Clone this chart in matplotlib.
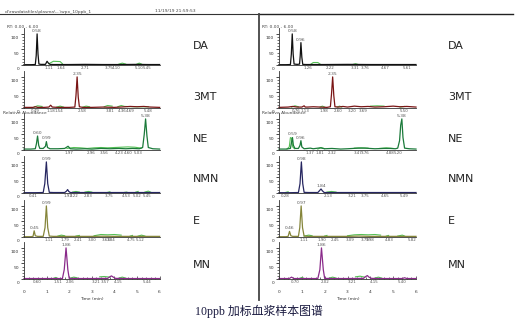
import numpy as np
import matplotlib
matplotlib.use("Agg")
import matplotlib.pyplot as plt
from matplotlib.lines import Line2D

nan = np.nan

# ---------------- data ----------------
compounds = ["DA", "3MT", "NE", "NMN", "E", "MN"]

# ---- left sample ----
da_l_t = [0, 0.3, 0.5, 0.54, 0.58, 0.62, 0.66, 0.75, 0.95, 1.02, 1.08, 1.15, 1.3, 2.0, 2.7, 3.5, 4.2, 5.0, 5.5, 6.0]
da_l_i = [1, 1, 1.5, 30, 100, 35, 3, 2, 2, 12, 6, 2, 1.5, 1.5, 2, 1.5, 1.5, 2, 1.5, 1.5]
da_l_gt = [1.1, 1.3, 1.6, 1.7, nan, 4.2, 4.35, 4.5, nan, 5.0, 5.1, 5.2]
da_l_gi = [4, 12, 11, 4, nan, 3, 6, 3, nan, 3, 6, 3]
da_l_apex = ["0.58"]
da_l_rt = ["1.11", "1.64", "2.71", "3.75", "4.10", "5.10", "5.45"]

mt_l_t = [0, 0.4, 0.5, 0.6, 0.9, 1.1, 1.18, 1.25, 1.5, 2.0, 2.25, 2.3, 2.35, 2.4, 2.45, 2.6, 3.0, 3.5, 4.0, 4.5, 4.7, 5.0, 5.3, 5.6, 6.0]
mt_l_i = [2, 2, 4, 2, 2, 3, 9, 3, 2, 2, 3, 40, 100, 35, 4, 2, 2, 3, 2, 4, 5, 4, 5, 3, 2]
mt_l_gt = [0.45, 0.6, 0.8, nan, 1.45, 1.6, 1.75, nan, 2.6, 2.75, 2.9, nan, 3.55, 3.7, 3.9, nan, 4.15, 4.3, 4.45, 4.9, 5.5]
mt_l_gi = [3, 7, 5, nan, 3, 6, 3, nan, 3, 6, 4, nan, 4, 8, 6, nan, 4, 8, 5, 4, 4]
mt_l_apex = ["2.35"]
mt_l_rt = ["0.49", "1.18", "1.54", "2.58", "3.81", "4.36", "4.69", "5.48"]

ne_l_t = [0, 0.3, 0.5, 0.55, 0.6, 0.65, 0.7, 0.85, 0.95, 0.99, 1.04, 1.15, 1.5, 1.8, 1.95, 2.05, 2.3, 2.7, 3.0, 3.4, 3.8, 4.2, 4.5, 4.8, 5.1, 5.25, 5.32, 5.38, 5.44, 5.5, 5.7, 6.0]
ne_l_i = [3, 3, 4, 20, 45, 15, 5, 5, 12, 27, 8, 4, 4, 5, 12, 4, 3, 4, 3, 5, 4, 5, 4, 5, 4, 8, 50, 100, 45, 8, 4, 3]
ne_l_gt = [1.9, 2.2, 2.5, 2.8, 3.1, 3.4, 3.7, 4.0, 4.3, 4.6, 4.9, 5.2]
ne_l_gi = [5, 8, 7, 5, 7, 8, 7, 8, 9, 10, 9, 6]
ne_l_apex = ["0.60", "0.99", "5.38"]
ne_l_rt = ["1.97", "2.96", "3.56", "4.23", "4.60", "5.03"]

nmn_l_t = [0, 0.5, 0.85, 0.92, 0.99, 1.05, 1.12, 1.3, 1.8, 1.88, 1.93, 1.98, 2.05, 2.5, 3, 4, 5, 6]
nmn_l_i = [1, 1, 1.5, 30, 100, 30, 2, 1.5, 1.5, 6, 11, 5, 1.5, 1.5, 1.5, 1.5, 1.5, 1.5]
nmn_l_gt = [2.15, 2.3, 2.45, nan, 2.7, 2.85, 3.0, nan, 3.7, 3.8, nan, 4.45, 4.55, nan, 4.95, 5.05, nan, 5.35, 5.5, 5.6]
nmn_l_gi = [3, 5, 3, nan, 3, 5, 3, nan, 2, 4, nan, 2, 3, nan, 3, 5, nan, 3, 6, 3]
nmn_l_apex = ["0.99"]
nmn_l_rt = ["0.41", "1.93", "2.22", "2.83", "3.75", "4.53", "5.02", "5.45"]

e_l_t = [0, 0.3, 0.4, 0.45, 0.5, 0.6, 0.85, 0.93, 0.99, 1.05, 1.12, 1.3, 2, 3, 3.5, 4, 5, 6]
e_l_i = [1, 1, 2, 20, 4, 2, 2, 30, 100, 30, 3, 2, 2, 2, 2.5, 2, 2, 2]
e_l_gt = [1.5, 1.65, 1.8, nan, 2.3, 2.45, nan, 3.1, 3.4, 3.7, 4.0, 4.3, nan, 4.7, 4.8, nan, 5.05, 5.2, 5.35]
e_l_gi = [3, 6, 4, nan, 3, 5, nan, 4, 8, 7, 8, 6, nan, 3, 5, nan, 3, 6, 3]
e_l_apex = ["0.45", "0.99"]
e_l_rt = ["1.11", "1.79", "2.41", "3.00", "3.63", "3.84", "4.75", "5.12"]

mn_l_t = [0, 0.5, 1.0, 1.7, 1.78, 1.86, 1.94, 2.0, 2.3, 3.0, 3.7, 3.8, 3.87, 3.95, 4.05, 4.5, 5, 6]
mn_l_i = [1.5, 1.5, 1.5, 1.5, 30, 100, 30, 2, 1.5, 1.5, 2, 7, 10, 6, 2, 1.5, 1.5, 1.5]
mn_l_gt = [1.3, 1.4, 1.5, nan, 2.05, 2.2, 2.35, nan, 3.35, 3.55, 3.8, nan, 4.2, 4.35, 4.5]
mn_l_gi = [2, 5, 2, nan, 3, 6, 4, nan, 7, 8, 6, nan, 3, 6, 3]
mn_l_apex = ["1.86"]
mn_l_rt = ["0.60", "1.51", "2.06", "3.21", "3.57", "4.15", "5.44"]

# ---- right sample ----
da_r_t = [0, 0.3, 0.5, 0.54, 0.58, 0.62, 0.66, 0.8, 0.9, 0.93, 0.96, 1.0, 1.04, 1.2, 2, 3, 4, 5, 6]
da_r_i = [1, 1, 1.5, 35, 100, 35, 3, 2, 3, 30, 72, 25, 2, 1.5, 1.5, 2, 1.5, 1.5, 1.5]
da_r_gt = [1.4, 1.5, 1.7, 1.8, nan, 3.25, 3.35, 3.45]
da_r_gi = [3, 8, 8, 3, nan, 2, 4, 2]
da_r_apex = ["0.58", "0.96"]
da_r_rt = ["1.26", "2.22", "3.31", "3.76", "4.67", "5.61"]

mt_r_t = [0, 0.4, 0.6, 0.8, 1.0, 1.1, 1.15, 1.25, 1.5, 1.8, 2.1, 2.25, 2.3, 2.35, 2.4, 2.45, 2.6, 2.8, 3.0, 3.3, 3.6, 3.9, 4.2, 4.6, 5.0, 5.3, 5.6, 6.0]
mt_r_i = [2, 3, 5, 3, 3, 7, 3, 3, 4, 3, 2, 4, 45, 100, 40, 4, 3, 5, 3, 6, 4, 5, 3, 4, 6, 4, 5, 3]
mt_r_gt = [0.55, 0.7, 0.85, nan, 1.8, 1.9, 2.0, nan, 2.55, 2.65, 2.75, nan, 4.0, 4.3, 4.6, nan, 5.3, 5.5]
mt_r_gi = [3, 7, 4, nan, 3, 6, 3, nan, 3, 6, 3, nan, 6, 7, 6, nan, 3, 5]
mt_r_apex = ["2.35"]
mt_r_rt = ["0.76", "1.13", "1.98", "2.60", "3.20", "3.69", "5.50"]

ne_r_t = [0, 0.3, 0.5, 0.55, 0.59, 0.63, 0.7, 0.85, 0.92, 0.96, 1.0, 1.1, 1.37, 1.5, 1.81, 2.0, 2.32, 2.7, 3.0, 3.47, 3.76, 4.2, 4.6, 4.88, 5.1, 5.2, 5.28, 5.33, 5.38, 5.43, 5.5, 5.7, 6.0]
ne_r_i = [3, 3, 5, 25, 40, 15, 5, 5, 15, 30, 10, 4, 6, 4, 7, 4, 5, 3, 4, 6, 6, 4, 5, 5, 4, 6, 30, 80, 100, 40, 6, 4, 3]
ne_r_gt = [0.35, 0.45, 0.5, 0.55, 0.6, 0.68, nan, 1.7, 1.85, 2.0, nan, 3.3, 3.6, 3.9, nan, 4.4, 4.7, 5.0]
ne_r_gi = [3, 10, 40, 38, 10, 4, nan, 3, 8, 4, nan, 6, 7, 6, nan, 5, 7, 5]
ne_r_apex = ["0.59", "0.96", "5.38"]
ne_r_rt = ["1.37", "1.81", "2.32", "3.47", "3.76", "4.88", "5.20"]

nmn_r_t = [0, 0.5, 0.85, 0.92, 0.98, 1.04, 1.1, 1.3, 1.7, 1.78, 1.84, 1.9, 1.98, 2.5, 3, 4, 5, 6]
nmn_r_i = [1, 1, 1.5, 30, 100, 30, 2, 1.5, 1.5, 8, 13, 7, 1.5, 1.5, 1.5, 1.5, 1.5, 1.5]
nmn_r_gt = [0.3, 0.4, nan, 2.1, 2.3, 2.5]
nmn_r_gi = [2, 4, nan, 3, 5, 3]
nmn_r_apex = ["0.98", "1.84"]
nmn_r_rt = ["0.28", "2.13", "3.21", "3.75", "4.65", "5.49"]

e_r_t = [0, 0.3, 0.4, 0.46, 0.52, 0.6, 0.85, 0.91, 0.97, 1.03, 1.1, 1.3, 2, 3, 3.5, 4, 5, 6]
e_r_i = [1, 1, 2, 18, 4, 2, 2, 30, 100, 30, 3, 2, 2, 2, 3, 2, 2, 2]
e_r_gt = [1.1, 1.3, 1.45, nan, 2.0, 2.1, nan, 3.0, 3.3, 3.6, 3.9, 4.2, 4.45, nan, 4.7, 4.8, nan, 5.2, 5.4, 5.5]
e_r_gi = [3, 6, 4, nan, 3, 5, nan, 4, 7, 8, 7, 8, 6, nan, 3, 5, nan, 3, 6, 3]
e_r_apex = ["0.46", "0.97"]
e_r_rt = ["1.11", "1.90", "2.45", "3.09", "3.79", "3.98", "4.83", "5.82"]

mn_r_t = [0, 0.45, 0.55, 0.65, 1.0, 1.7, 1.79, 1.86, 1.94, 2.0, 2.3, 3.0, 3.7, 3.8, 3.87, 3.94, 4.05, 4.5, 5.4, 5.5, 5.6, 6]
mn_r_i = [1.5, 1.5, 6, 1.5, 1.5, 1.5, 30, 100, 30, 2, 1.5, 1.5, 2, 8, 11, 6, 2, 1.5, 1.5, 4, 1.5, 1.5]
mn_r_gt = [0.9, 1.0, 1.1, nan, 2.2, 2.35, 2.5, nan, 3.35, 3.55, 3.75, nan, 4.2, 4.35, 4.5]
mn_r_gi = [2, 5, 2, nan, 3, 6, 3, nan, 7, 9, 6, nan, 3, 6, 3]
mn_r_apex = ["1.86"]
mn_r_rt = ["0.70", "2.02", "3.21", "4.15", "5.40"]

x_ticks = [0, 1, 2, 3, 4, 5, 6]
y_ticks = [0, 50, 100]

# ---------------- styling ----------------
colors = ["#111111", "#7a1515", "#1b7a3a", "#262660", "#85853a", "#8a2a8a"]
green = "#55c055"
W, H = 518, 323
fig = plt.figure(figsize=(W / 100, H / 100), dpi=100)
fig.patch.set_facecolor("white")

bases = [65, 108, 150, 193, 237, 279]
name_y = [46, 97, 139, 179, 221, 265]
AX_H = 37
SMALL = 3.2
TINY = 2.9
gray = "#555555"

left_data = [
    (da_l_t, da_l_i, da_l_gt, da_l_gi, da_l_apex, da_l_rt),
    (mt_l_t, mt_l_i, mt_l_gt, mt_l_gi, mt_l_apex, mt_l_rt),
    (ne_l_t, ne_l_i, ne_l_gt, ne_l_gi, ne_l_apex, ne_l_rt),
    (nmn_l_t, nmn_l_i, nmn_l_gt, nmn_l_gi, nmn_l_apex, nmn_l_rt),
    (e_l_t, e_l_i, e_l_gt, e_l_gi, e_l_apex, e_l_rt),
    (mn_l_t, mn_l_i, mn_l_gt, mn_l_gi, mn_l_apex, mn_l_rt),
]
right_data = [
    (da_r_t, da_r_i, da_r_gt, da_r_gi, da_r_apex, da_r_rt),
    (mt_r_t, mt_r_i, mt_r_gt, mt_r_gi, mt_r_apex, mt_r_rt),
    (ne_r_t, ne_r_i, ne_r_gt, ne_r_gi, ne_r_apex, ne_r_rt),
    (nmn_r_t, nmn_r_i, nmn_r_gt, nmn_r_gi, nmn_r_apex, nmn_r_rt),
    (e_r_t, e_r_i, e_r_gt, e_r_gi, e_r_apex, e_r_rt),
    (mn_r_t, mn_r_i, mn_r_gt, mn_r_gi, mn_r_apex, mn_r_rt),
]


def ftext(x, y, s, **kw):
    fig.text(x / W, 1 - y / H, s, **kw)


def draw_side(data, left_px, width_px, name_x, rt_x, rel_x):
    for k, (t, i, gt, gi, apex, rts) in enumerate(data):
        base = bases[k]
        ax = fig.add_axes([left_px / W, 1 - base / H, width_px / W, AX_H / H])
        ax.set_xlim(0, 6)
        ax.set_ylim(0, 119)
        ax.patch.set_alpha(0)
        for s in ["top", "right"]:
            ax.spines[s].set_visible(False)
        for s in ["left", "bottom"]:
            ax.spines[s].set_linewidth(0.6)
            ax.spines[s].set_color("#333333")
        ax.plot(gt, gi, color=green, lw=0.8, clip_on=False)
        ax.plot(t, i, color=colors[k], lw=0.9, clip_on=False)
        # y ticks
        ax.set_yticks(y_ticks)
        ax.set_yticks(np.arange(0, 101, 10), minor=True)
        ax.tick_params(axis="y", which="major", length=2.2, width=0.5, labelleft=False, direction="out")
        ax.tick_params(axis="y", which="minor", length=1.4, width=0.4, direction="out")
        for v in y_ticks:
            ax.annotate(str(v), xy=(0, v), xycoords=("axes fraction", "data"),
                        xytext=(-3.5, -3.2), textcoords="offset points",
                        ha="right", va="center", fontsize=SMALL, color="#333333",
                        annotation_clip=False)
        # x axis
        if k == len(data) - 1:
            ax.set_xticks(x_ticks)
            ax.set_xticks(np.arange(0, 6.01, 0.2), minor=True)
            ax.tick_params(axis="x", which="major", length=2.0, width=0.5, direction="in",
                           labelsize=SMALL, pad=8, colors="#333333")
            ax.tick_params(axis="x", which="minor", length=1.4, width=0.4, direction="in")
            ax.set_xlabel("Time (min)", fontsize=SMALL, labelpad=2.0, color="#333333")
        else:
            ax.set_xticks([])
        # apex labels
        for lab in apex:
            xv = float(lab)
            yv = float(np.interp(xv, t, i))
            ax.annotate(lab, xy=(xv, yv), xytext=(0, 0.8), textcoords="offset points",
                        ha="center", va="bottom", fontsize=SMALL, color=gray,
                        annotation_clip=False)
        # small RT labels below baseline
        for lab in rts:
            ax.annotate(lab, xy=(float(lab), 0), xytext=(0, -0.8), textcoords="offset points",
                        ha="center", va="top", fontsize=TINY, color=gray,
                        annotation_clip=False)
        # compound name
        ftext(name_x, name_y[k], compounds[k], fontsize=8, color="#222222",
              ha="left", va="center")
    ftext(rt_x, 27, "RT: 0.00 - 6.00", fontsize=SMALL, color="#444444", ha="left", va="center")
    ftext(rel_x, 113, "Relative Abundance", fontsize=SMALL, color="#444444", ha="left", va="center")


draw_side(left_data, 24.0, 135.6, 193, 7, 3)
draw_side(right_data, 279.0, 137.0, 448, 262, 262)

# header
ftext(5, 11.5, r"d:\rawdatafiles\plasma\...\wpx_10ppb_1", fontsize=SMALL, color="#444444",
      ha="left", va="center")
ftext(155, 11.5, "11/19/19 21:59:53", fontsize=SMALL, color="#444444", ha="left", va="center")
fig.add_artist(Line2D([0 / W, 258 / W], [1 - 14 / H] * 2, color="#333333", lw=0.8))
fig.add_artist(Line2D([259 / W, 513 / W], [1 - 14 / H] * 2, color="#222222", lw=1.0))
fig.add_artist(Line2D([258.5 / W] * 2, [1 - 14 / H, 1 - 300 / H], color="#444444", lw=1.3))

# caption
ftext(259, 311, "10ppb 加标血浆样本图谱", fontsize=8.6, color="#1a1a40", ha="center", va="center",
      family=["Liberation Serif", "Noto Sans CJK SC", "DejaVu Sans"])

fig.savefig("out.png", dpi=100, facecolor="white")
